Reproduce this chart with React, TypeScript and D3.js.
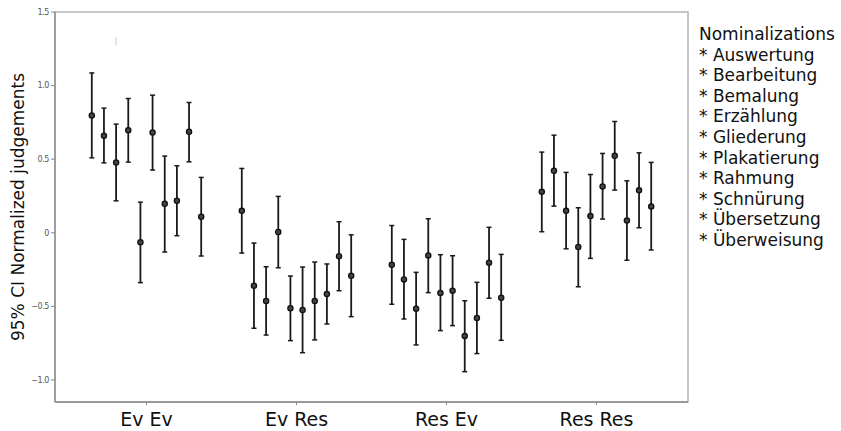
import React from "react";
import * as d3 from "d3";

const conditions = ["Ev Ev", "Ev Res", "Res Ev", "Res Res"];
const nominalizations = ["Auswertung", "Bearbeitung", "Bemalung", "Erzählung", "Gliederung", "Plakatierung", "Rahmung", "Schnürung", "Übersetzung", "Überweisung"];
const yTicks = [1.5, 1.0, 0.5, 0, -0.5, -1.0];

// means per condition, one per nominalization (same order as above)
const means = [
    [0.797, 0.659, 0.478, 0.697, -0.065, 0.681, 0.197, 0.217, 0.686, 0.109],
    [0.149, -0.36, -0.464, 0.005, -0.513, -0.525, -0.464, -0.416, -0.16, -0.292],
    [-0.218, -0.317, -0.516, -0.154, -0.409, -0.394, -0.701, -0.579, -0.204, -0.441],
    [0.278, 0.421, 0.149, -0.097, 0.113, 0.315, 0.523, 0.084, 0.288, 0.179],
];
const upper = [
    [1.086, 0.847, 0.738, 0.912, 0.208, 0.935, 0.521, 0.455, 0.885, 0.376],
    [0.437, -0.07, -0.231, 0.247, -0.294, -0.233, -0.199, -0.212, 0.075, -0.014],
    [0.049, -0.045, -0.269, 0.095, -0.149, -0.156, -0.462, -0.337, 0.037, -0.147],
    [0.548, 0.663, 0.41, 0.17, 0.396, 0.539, 0.756, 0.353, 0.543, 0.478],
];
const lower = [
    [0.509, 0.475, 0.217, 0.48, -0.339, 0.426, -0.131, -0.02, 0.482, -0.158],
    [-0.138, -0.649, -0.695, -0.238, -0.733, -0.815, -0.728, -0.62, -0.394, -0.57],
    [-0.486, -0.586, -0.762, -0.407, -0.665, -0.631, -0.944, -0.821, -0.445, -0.731],
    [0.007, 0.181, -0.109, -0.367, -0.174, 0.093, 0.29, -0.187, 0.034, -0.117],
];

const width = 841;
const height = 431;
const margin = {top: 12, right: 153, bottom: 29, left: 55};

export default function App()
{
    const x0 = 55, x1 = width - margin.right, y0 = margin.top, y1 = height - margin.bottom;

    const xScale = d3.scalePoint<string>().domain(conditions).range([x0, x1]).padding(0.61);
    const offset = d3.scalePoint<string>().domain(nominalizations).range([-54.7, 54.7]);
    const yScale = d3.scaleLinear().domain([-1.15, 1.5]).range([y1, y0]);

    const points = conditions.flatMap((c, ci) =>
        nominalizations.map((n, ni) => ({
            x: (xScale(c) as number) + (offset(n) as number),
            m: means[ci][ni],
            lo: lower[ci][ni],
            hi: upper[ci][ni],
            key: c + n,
        }))
    );

    const font = "DejaVu Sans, sans-serif";

    return (
        <svg width={width} height={height} style={{position: "absolute", left: 0, top: 0, background: "#fff"}}>
            {/* frame */}
            <rect x={x0} y={y0} width={x1 - x0} height={y1 - y0} fill="none" stroke="#aaa" strokeWidth={1.3}/>
            <line x1={x0} x2={x0} y1={y0} y2={y1} stroke="#888" strokeWidth={1.3}/>
            <line x1={x0} x2={x1} y1={y1} y2={y1} stroke="#888" strokeWidth={1.3}/>

            {/* y ticks */}
            {yTicks.map((t) => (
                <g key={t}>
                    <line x1={x0 - 4} x2={x0} y1={yScale(t)} y2={yScale(t)} stroke="#888"/>
                    <text x={x0 - 6} y={yScale(t)} dy="0.35em" textAnchor="end" fontFamily={font} fontSize={8} fill="#555" letterSpacing={-0.4}>
                        {t === 0 ? "0" : d3.format(".1f")(t)}
                    </text>
                </g>
            ))}

            {/* x ticks */}
            {conditions.map((c) => (
                <g key={c}>
                    <line x1={xScale(c)} x2={xScale(c)} y1={y1} y2={y1 + 3} stroke="#888"/>
                    <text x={xScale(c)} y={y1 + 24} textAnchor="middle" fontFamily={font} fontSize={19} fill="#111">{c}</text>
                </g>
            ))}

            {/* stray mark */}
            <line x1={(xScale("Ev Ev") as number) + (offset("Bemalung") as number)} x2={(xScale("Ev Ev") as number) + (offset("Bemalung") as number)}
                  y1={yScale(1.33)} y2={yScale(1.275)} stroke="#ccc" strokeWidth={1}/>

            {/* error bars */}
            {points.map((p) => (
                <g key={p.key}>
                    <line x1={p.x} x2={p.x} y1={yScale(p.hi)} y2={yScale(p.lo)} stroke="#1a1a1a" strokeWidth={1.8}/>
                    <line x1={p.x - 2.5} x2={p.x + 2.5} y1={yScale(p.hi)} y2={yScale(p.hi)} stroke="#1a1a1a" strokeWidth={1.5}/>
                    <line x1={p.x - 2.5} x2={p.x + 2.5} y1={yScale(p.lo)} y2={yScale(p.lo)} stroke="#1a1a1a" strokeWidth={1.5}/>
                    <circle cx={p.x} cy={yScale(p.m)} r={2.6} fill="#444" stroke="#111" strokeWidth={1.3}/>
                </g>
            ))}

            {/* y label */}
            <text transform={`translate(24, ${(y0 + y1) / 2}) rotate(-90)`} textAnchor="middle" fontFamily={font} fontSize={17} fill="#111">
                95% CI Normalized judgements
            </text>

            {/* legend */}
            <text x={699} y={40} fontFamily={font} fontSize={17} fill="#111">Nominalizations</text>
            {nominalizations.map((n, i) => (
                <text key={n} x={699} y={40 + (i + 1) * 20.6} fontFamily={font} fontSize={17} fill="#111">{"* " + n}</text>
            ))}
        </svg>
    );
}
